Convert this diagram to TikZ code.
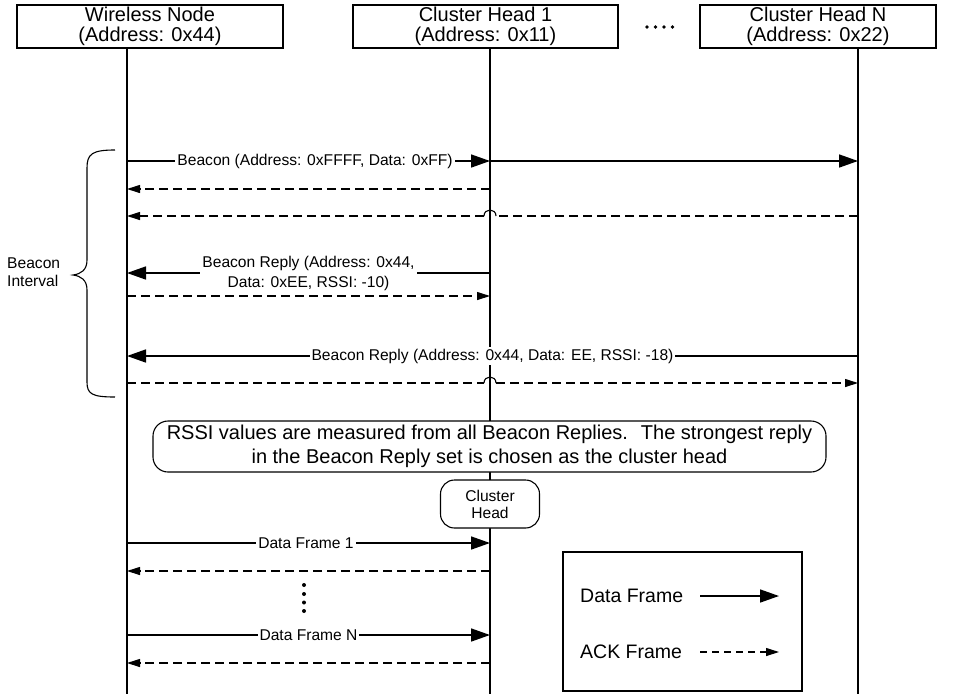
\documentclass[tikz,border=0pt]{standalone}
\usepackage{fontspec}
\setmainfont{Liberation Sans}
\usetikzlibrary{arrows.meta,calc}

\begin{document}
\begin{tikzpicture}[x=1pt,y=-1pt,
  headbox/.style={draw, line width=1.1pt, fill=white, inner sep=0pt, align=center,
    font=\fontsize{20}{20}\selectfont},
  lifeline/.style={line width=1.4pt},
  datamsg/.style={line width=1.6pt, -{Triangle[length=19pt,width=13pt]}},
  ackmsg/.style={line width=1.1pt, dash pattern=on 9pt off 5pt,
    -{Triangle[length=13pt,width=8pt]}},
  hop/.style={line width=1.1pt},
  lbl/.style={fill=white, inner sep=2pt, align=center,
    font=\fontsize{15.6}{20}\selectfont},
  notebox/.style={draw, line width=1.1pt, fill=white, rounded corners=15pt,
    align=center, inner sep=0pt},
  legendtext/.style={anchor=west, inner sep=0pt, font=\fontsize{19.5}{22}\selectfont},
  dot/.style={circle, fill=black, inner sep=0pt, minimum size=3.6pt}
]
\useasboundingbox (0,0) rectangle (969,694);

% participants
\node[headbox, minimum width=266, minimum height=43] (wn) at (150,26.5)
  {Wireless Node\\(Address: 0x44)};
\node[headbox, minimum width=265, minimum height=43] (ch1) at (485.5,26.5)
  {Cluster Head 1\\(Address: 0x11)};
\node[headbox, minimum width=236, minimum height=43] (chn) at (818,26.5)
  {Cluster Head N\\(Address: 0x22)};
\foreach \i/\x in {1/647,2/655.5,3/664,4/672.5}
  \node[dot] (hdot\i) at (\x,27) {};

% lifelines
\coordinate (wn-end) at (127,694);
\coordinate (ch1-end) at (490,694);
\coordinate (chn-end) at (858,694);
\draw[lifeline] (wn.south -| wn-end) -- (wn-end);
\draw[lifeline] (ch1.south -| ch1-end) -- (ch1-end);
\draw[lifeline] (chn.south -| chn-end) -- (chn-end);

% line jumps where an ACK crosses the Cluster Head 1 lifeline
\coordinate (jumpA-r) at (496,216);
\coordinate (jumpA-l) at (484,216);
\coordinate (jumpB-l) at (484,383);
\coordinate (jumpB-r) at (496,383);

% beacon interval
\draw[datamsg] (wn-end |- 0,161) -- node[lbl, pos=0.518]
  {Beacon (Address: 0xFFFF, Data: 0xFF)} (ch1-end |- 0,161);
\draw[datamsg] (ch1-end |- 0,161) -- (chn-end |- 0,161);
\draw[ackmsg] (ch1-end |- 0,189) -- (wn-end |- 0,189);
\draw[ackmsg] (chn-end |- 0,216) -- (jumpA-r) (jumpA-l) -- (wn-end |- 0,216);
\draw[hop] (jumpA-r) .. controls (496,208) and (484,208) .. (jumpA-l);

\draw[datamsg] (ch1-end |- 0,273) -- node[lbl, midway]
  {Beacon Reply (Address: 0x44,\\Data: 0xEE, RSSI: -10)} (wn-end |- 0,273);
\draw[ackmsg] (wn-end |- 0,296) -- (ch1-end |- 0,296);

\draw[datamsg] (chn-end |- 0,356) -- node[lbl, midway]
  {Beacon Reply (Address: 0x44, Data: EE, RSSI: -18)} (wn-end |- 0,356);
\draw[ackmsg, -] (wn-end |- 0,383) -- (jumpB-l);
\draw[ackmsg] (jumpB-r) -- (chn-end |- 0,383);
\draw[hop] (jumpB-l) .. controls (484,375) and (496,375) .. (jumpB-r);

% brace and its label
\draw[line width=1.1pt] (115,150) .. controls (92,150) and (87,154) .. (87,168)
  -- (87,260) .. controls (87,270) and (81,274) .. (73,275)
  .. controls (81,276) and (87,280) .. (87,290)
  -- (87,382) .. controls (87,394) and (92,397) .. (115,397);
\node[anchor=west, inner sep=0pt, align=left, font=\fontsize{15.6}{18}\selectfont]
  (interval) at (7,272) {Beacon\\Interval};

% selection note
\node[notebox, minimum width=673, minimum height=51,
  font=\fontsize{20}{24}\selectfont] (note) at (489.5,446.5)
  {RSSI values are measured from all Beacon Replies.~ The strongest reply\\
   in the Beacon Reply set is chosen as the cluster head};
\node[notebox, rounded corners=14pt, minimum width=99, minimum height=48,
  font=\fontsize{15.6}{17}\selectfont] (chead) at (490,504) {Cluster\\Head};

% data exchange
\draw[datamsg] (wn-end |- 0,543) -- node[lbl, pos=0.493] {Data Frame 1} (ch1-end |- 0,543);
\draw[ackmsg] (ch1-end |- 0,571) -- (wn-end |- 0,571);
\foreach \i/\y in {1/585,2/594,3/602.5,4/611}
  \node[dot, minimum size=4pt] (vdot\i) at (304,\y) {};
\draw[datamsg] (wn-end |- 0,635) -- node[lbl, midway] {Data Frame N} (ch1-end |- 0,635);
\draw[ackmsg] (ch1-end |- 0,663) -- (wn-end |- 0,663);

% legend
\node[draw, line width=1.1pt, minimum width=239, minimum height=139, inner sep=0pt]
  (legend) at (682.5,621.5) {};
\node[legendtext] (lg-data) at (580,596) {Data Frame};
\node[legendtext] (lg-ack) at (580,652) {ACK Frame};
\coordinate (lg-data-s) at (700,596);
\coordinate (lg-data-e) at (779,596);
\coordinate (lg-ack-s) at (700,652);
\coordinate (lg-ack-e) at (779,652);
\draw[datamsg] (lg-data-s) -- (lg-data-e);
\draw[ackmsg, dash pattern=on 7pt off 5pt] (lg-ack-s) -- (lg-ack-e);
\end{tikzpicture}
\end{document}
